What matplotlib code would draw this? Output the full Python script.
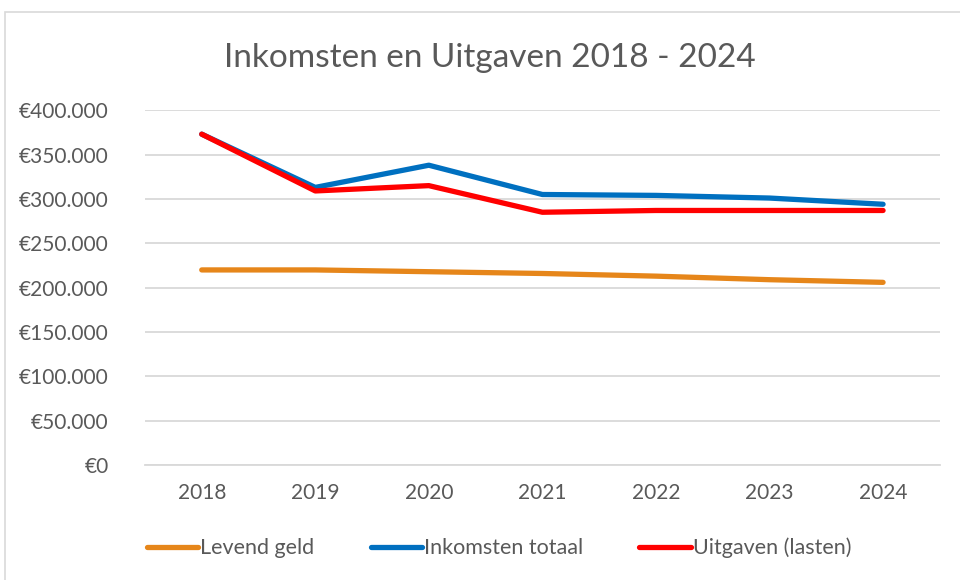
import matplotlib.pyplot as plt
from matplotlib.patches import Rectangle
from matplotlib.ticker import FuncFormatter

plt.rcParams['font.family'] = ['Lato', 'DejaVu Sans']

years = ['2018', '2019', '2020', '2021', '2022', '2023', '2024']
levend_geld = [220000, 220000, 218000, 216000, 213000, 209000, 206000]
inkomsten_totaal = [373000, 313000, 338000, 305000, 304000, 301000, 294000]
uitgaven_lasten = [373000, 309000, 315000, 285000, 287000, 287000, 287000]

text_col = '#595959'

fig = plt.figure(figsize=(9.6, 5.8), dpi=100)
ax = fig.add_axes([0.151, 0.198, 0.828, 0.612])

x = range(len(years))
ax.plot(x, levend_geld, color='#E6861A', lw=3.8, solid_capstyle='round', label='Levend geld')
ax.plot(x, inkomsten_totaal, color='#0070C0', lw=3.8, solid_capstyle='round', label='Inkomsten totaal')
ax.plot(x, uitgaven_lasten, color='#FF0000', lw=3.8, solid_capstyle='round', label='Uitgaven (lasten)')

ax.set_xlim(-0.5, len(years) - 0.5)
ax.set_ylim(0, 400000)
ax.set_yticks(range(0, 400001, 50000))
ax.yaxis.set_major_formatter(FuncFormatter(lambda v, p: '€0' if v == 0 else '€' + f'{int(v):,}'.replace(',', '.')))
ax.set_xticks(list(x))
ax.set_xticklabels(years)
ax.grid(axis='y', color='#D9D9D9', lw=1.3)
ax.set_axisbelow(True)
for s in ['top', 'right', 'left']:
    ax.spines[s].set_visible(False)
ax.spines['bottom'].set_color('#D9D9D9')
ax.spines['bottom'].set_linewidth(1.3)
ax.tick_params(length=0, labelsize=15, colors=text_col)
ax.tick_params(axis='x', pad=13)
ax.tick_params(axis='y', pad=26)

fig.text(0.51, 0.9, 'Inkomsten en Uitgaven 2018 - 2024', ha='center', va='center',
         fontsize=24, color=text_col)

fig.legend(loc='center', bbox_to_anchor=(0.52, 0.055), ncol=3, frameon=False,
           fontsize=15.5, labelcolor=text_col, handlelength=2.4, handletextpad=0.1,
           columnspacing=2.6)

fig.patches.append(Rectangle((5 / 960, -0.01), 1.0, 1 - 12 / 580 + 0.01, transform=fig.transFigure,
                             fill=False, edgecolor='#D9D9D9', lw=1.2))

fig.savefig('out.png', dpi=100)
